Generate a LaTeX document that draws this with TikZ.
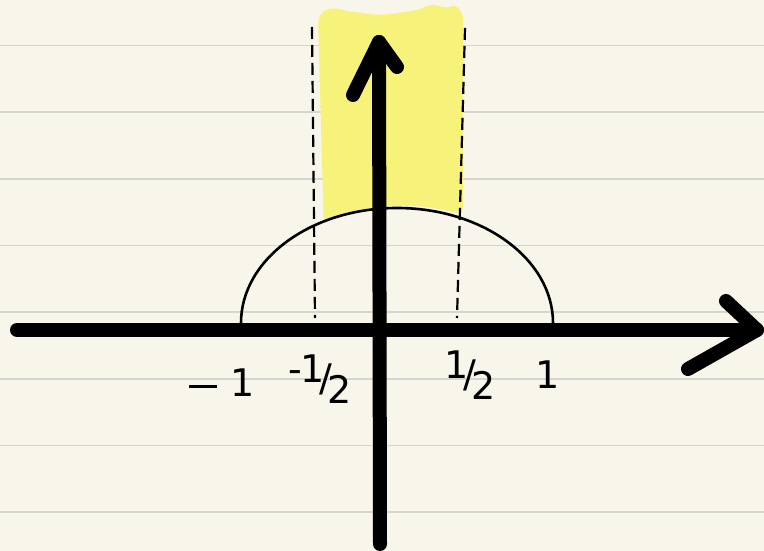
\documentclass[tikz,border=0pt]{standalone}
\usepackage{fontspec}
\setsansfont{DejaVu Sans}
\definecolor{paper}{HTML}{F8F6EA}
\definecolor{rule}{HTML}{D6D6D0}
\definecolor{hilite}{HTML}{F7F37A}
\newcommand{\halfmark}{\raisebox{9pt}{1}\kern-5pt/\kern-5pt\raisebox{-12pt}{2}}
\begin{document}
\begin{tikzpicture}[x=1pt,y=1pt,
  ruleline/.style={rule,line width=1.6},
  axisline/.style={line width=14,line cap=round,line join=round},
  guide/.style={line width=2.2,dash pattern=on 12 off 6},
  curve/.style={line width=2.6,line join=round},
  lbl/.style={font=\sffamily\fontsize{38}{42}\selectfont,inner sep=0}]
\fill[paper] (0,0) rectangle (764,551);
\useasboundingbox (0,0) rectangle (764,551);
% ruled lines
\foreach \y in {505.5,438.7,372,305.5,239,172,105.5,39}
  \draw[ruleline] (0,\y) -- (764,\y);
% yellow highlight
\fill[hilite,rounded corners=4] (318,532) -- (324,541) -- (335,543) -- (347,540) -- (362,538) -- (380,536)
  -- (398,538) -- (418,541) -- (432,547) -- (446,543) -- (456,546) -- (463,536)
  -- (463,339)
  -- (456,338) arc[start angle=70,end angle=120.4,x radius=156,y radius=115]
  -- cycle;
% dashed guides
\coordinate (lt) at (312,524); \coordinate (lb) at (315,233);
\coordinate (rt) at (465,523); \coordinate (rb) at (457,233);
\draw[guide] (lt) -- (lb);
\draw[guide] (rt) -- (rb);
% semicircle
\coordinate (m1) at (241,228);
\draw[curve] (m1) arc[start angle=180,end angle=0,x radius=156,y radius=115] coordinate (p1);
% axes
\coordinate (xl) at (17,221); \coordinate (xr) at (757,221);
\coordinate (xa) at (726,250); \coordinate (xb) at (688,182);
\coordinate (yb) at (380,7); \coordinate (yt) at (379,509);
\coordinate (ya) at (353,456); \coordinate (yc) at (397,484);
\draw[axisline] (xl) -- (xr);
\draw[axisline] (xa) -- (xr) -- (xb);
\draw[axisline] (yb) -- (yt);
\draw[axisline] (ya) -- (yt) -- (yc);
% labels
\node[lbl] (lm1) at (222,168) {\raisebox{0pt}{\rule[9pt]{28pt}{3pt}}\kern14pt1};
\node[lbl] (lmh) at (320,172) {\raisebox{9pt}{-}\kern-2pt\halfmark};
\node[lbl] (lph) at (470,176) {\halfmark};
\node[lbl] (lp1) at (548,176) {1};
\end{tikzpicture}
\end{document}
